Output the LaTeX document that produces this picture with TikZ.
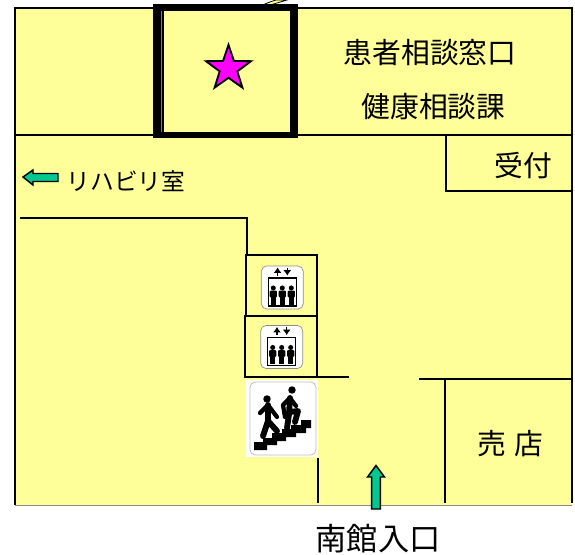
\documentclass[tikz,border=0pt]{standalone}
\usepackage{fontspec}
\newfontfamily\cjk{Noto Sans CJK JP}
\usetikzlibrary{shapes.geometric,arrows.meta}
\definecolor{plan}{HTML}{FFFF99}
\definecolor{arrowgreen}{HTML}{00C890}
\definecolor{starpink}{HTML}{FF00FF}
\tikzset{
 wall/.style={draw=black,line width=1.3pt},
 room/.style={draw=black,line width=1.5pt},
 lbl/.style={font=\cjk\fontsize{21.6pt}{24pt}\selectfont,inner sep=0pt,text=black},
 lbll/.style={font=\cjk\fontsize{23.4pt}{26pt}\selectfont,inner sep=0pt,text=black},
 lbls/.style={font=\cjk\fontsize{17.8pt}{20pt}\selectfont,inner sep=0pt,text=black},
 green arrow/.style={draw=black,line width=1.1pt,fill=arrowgreen},
 limb/.style={black,line width=4.4pt,line cap=round,line join=round},
 arm/.style={black,line width=3.2pt,line cap=round,line join=round},
}
\begin{document}
\begin{tikzpicture}[x=0.75pt,y=-0.75pt]
\useasboundingbox (0,0) rectangle (575,554);
\fill[plan] (15,8) rectangle (572,505);
\draw[line width=1.5pt,black] (15,505) -- (15,8) -- (572,8) -- (572,503);
\draw[line width=0.6pt,black!45] (15,505) -- (572,505);
\draw[wall] (15,135) -- (572,135);
\draw[wall] (446,135) -- (446,191) -- (572,191);
\draw[wall] (20,218) -- (247,218) -- (247,255);
\draw[wall] (318,377) -- (349,377);
\draw[wall] (419,379) -- (572,379);
\draw[wall] (445,379) -- (445,503);
\draw[wall] (318,458) -- (318,503);
\draw[room] (246,255) rectangle (317,316);
\draw[room] (245,316) rectangle (317,377);
% thick room
\fill[white] (150,0) rectangle (300,4);
\draw[black,line width=0.6pt,fill=plan] (264,4.5) .. controls (267,3) and (271,1.5) .. (276,0) -- (287,0) -- (272,4.5) -- cycle;
\fill[black] (153,4) rectangle (298,138);
\fill[plan] (164,11) rectangle (290,132);
\draw[plan!50!black,line width=0.5pt] (161,11) -- (161,132);
\node[star,star points=5,star point ratio=2.55,minimum size=35.5pt,inner sep=0pt,draw=black,line width=1.4pt,fill=starpink] (st) at (228.5,68.5) {};
\node[lbl] (a) at (430,53) {患者相談窓口};
\node[lbl] (b) at (433.5,107) {健康相談課};
\node[lbl] (c) at (523.5,166) {受付};
\node[lbls] (d) at (126,181) {リハビリ室};
\node[lbl] (e) at (510.5,444) {売\hspace{0.3em}店};
\node[lbll] (f) at (378,539) {南館入口};
\draw[green arrow] (23,177) -- (33,170) -- (33,173.5) -- (58,173.5) -- (58,181.5) -- (33,181.5) -- (33,185) -- cycle;
\draw[green arrow] (376,465.5) -- (384.5,477) -- (380.3,477) -- (380.3,509) -- (371.7,509) -- (371.7,477) -- (367.5,477) -- cycle;
% lifts
\foreach \n/\x/\y in {l1/282.3/287.5,l2/281.7/347}{
 \begin{scope}[shift={(\x,\y)}]
  \draw[black!45,line width=0.5pt,fill=white,rounded corners=4pt] (-21,-21.5) rectangle (21,21.5);
  \draw[black,line width=1.1pt] (-14,-9.7) rectangle (14,18.7);
  \draw[black,line width=1pt,-{Latex[length=4pt,width=6pt]}] (-4.7,-12) -- (-4.7,-20);
  \draw[black,line width=1pt,-{Latex[length=4pt,width=6pt]}] (5,-20) -- (5,-12);
  \foreach \p in {-9,0,9}{
   \fill[black] (\p,0.5) circle (1.9pt);
   \fill[black,rounded corners=0.8pt] (\p-3.6,3) rectangle (\p+3.6,10);
   \fill[black] (\p-2.6,9) rectangle (\p+2.6,17);
  }
 \end{scope}
}
% stairs
\fill[white] (246,380) rectangle (318,457);
\draw[black!25,line width=0.6pt,rounded corners=4pt] (250,382) rectangle (316,455);
\fill[black] (254,450) -- (254,442) -- (263,442) -- (263,438) -- (272,438) -- (272,433) -- (282,433) -- (282,429) -- (291,429) -- (291,425) -- (301,425) -- (301,420) -- (311,420) -- (311,428) -- (306,428) -- (306,433) -- (296,433) -- (296,437) -- (286,437) -- (286,441) -- (277,441) -- (277,445) -- (267,445) -- (267,450) -- cycle;
\fill[black] (267,399) circle (2.8pt);
\fill[black] (292,390) circle (2.8pt);
\draw[limb] (268,405) -- (268,421) -- (263,436);
\draw[limb] (268,421) -- (277,431);
\draw[arm] (260,413) -- (268,405) -- (277,417);
\draw[limb] (290,398) -- (289,414) -- (287,428);
\draw[limb] (289,412) -- (298,411) -- (295,422);
\draw[arm] (285,417) -- (283,405) -- (290,398) -- (296,406);
\end{tikzpicture}
\end{document}
